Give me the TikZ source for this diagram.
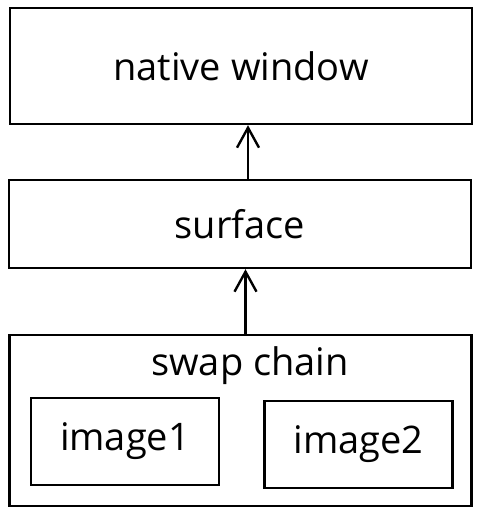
\documentclass[tikz,border=0pt]{standalone}
\usepackage{fontspec}
\setmainfont{Open Sans}
\usetikzlibrary{arrows.meta}
\usetikzlibrary{calc}

\begin{document}
\begin{tikzpicture}[x=1pt,y=-1pt,
  layerbox/.style={draw,line width=2.4pt,rectangle,inner sep=0pt},
  namenode/.style={font=\fontsize{38}{44}\selectfont},
  uparrow/.style={line width=2.4pt,-{Straight Barb[length=20pt,width=22pt,line width=2.4pt]}}]

\useasboundingbox (0,0) rectangle (482,516);

% Set dimensions of the layers
\def\lw{462} %<- width of outer layers
\def\iw{188} %<- width of images
\def\ih{87}  %<- height of images

% Native window
\node[layerbox,minimum width=\lw,minimum height=116] (nativewindow) at (241,66) {};
\node[namenode] at (nativewindow.center) {native window};

% Surface
\node[layerbox,minimum width=\lw,minimum height=88] (surface) at (240,224) {};
\node[namenode] at (surface.center) {surface};

% Swap chain
\node[layerbox,minimum width=\lw,minimum height=171] (swapchain) at (240.5,420.5) {};
\node[namenode] (swaplabel) at (250,366) {swap chain};

% Images
\node[layerbox,minimum width=\iw,minimum height=\ih,namenode] (imageone) at (125,441.5) {image1};
\node[layerbox,minimum width=\iw,minimum height=\ih,namenode] (imagetwo) at (358.5,444.5) {image2};

% Arrows
\draw[uparrow] ([xshift=8]surface.north) -- ([xshift=8]surface.north |- nativewindow.south);
\draw[uparrow] ([xshift=5]swapchain.north) -- ([xshift=5]swapchain.north |- surface.south);

\end{tikzpicture}
\end{document}
